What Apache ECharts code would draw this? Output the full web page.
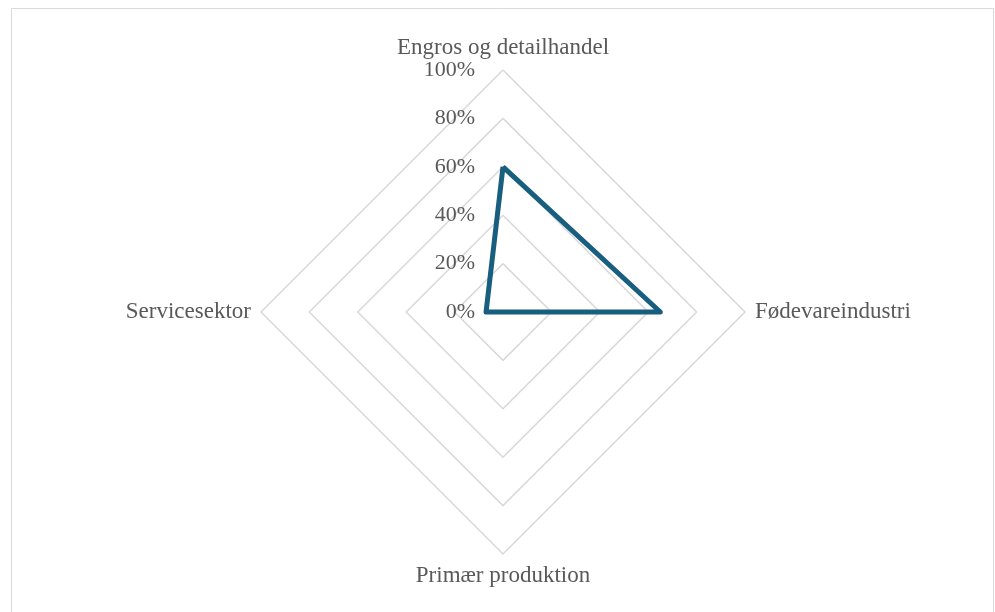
<!DOCTYPE html>
<html><head><meta charset="utf-8">
<script src="https://cdn.jsdelivr.net/npm/echarts@6/dist/echarts.min.js"></script>
<style>html,body{margin:0;padding:0;background:#fff}#c{width:995px;height:612px}</style>
</head><body><div id="c"></div>
<script>
// Indicators in ECharts drawing order (counter-clockwise from the top)
const categories = ['Engros og detailhandel', 'Servicesektor', 'Primær produktion', 'Fødevareindustri'];
const values = [60, 7, 0, 65];
const tickLabels = ['0%', '20%', '40%', '60%', '80%', '100%'];

const chart = echarts.init(document.getElementById('c'));
const font = 'Liberation Serif';
chart.setOption({
  backgroundColor: '#fff',
  graphic: [{type:'rect', shape:{x:11.5, y:8.5, width:982, height:620}, style:{fill:'none', stroke:'#d9d9d9', lineWidth:1}}],
  radar: {
    center: [503, 312],
    radius: 242,
    startAngle: 90,
    shape: 'polygon',
    splitNumber: 5,
    indicator: categories.map((n, i) => ({name: n, min: 0, max: 100, axisLabel: {show: i === 0}})),
    axisName: {color: '#595959', fontFamily: font, fontSize: 23},
    nameGap: 10,
    axisLine: {show: false},
    axisTick: {show: false},
    splitArea: {show: false},
    splitLine: {lineStyle: {color: '#d9d9d9', width: 1.5}},
    axisLabel: {show: false, color: '#595959', fontFamily: font, fontSize: 22, margin: 28,
      formatter: v => tickLabels[Math.round(v / 20)]}
  },
  series: [{
    type: 'radar',
    symbol: 'none',
    silent: true,
    lineStyle: {color: '#175e7f', width: 5, join: 'round'},
    data: [{value: values}]
  }]
});
</script></body></html>
